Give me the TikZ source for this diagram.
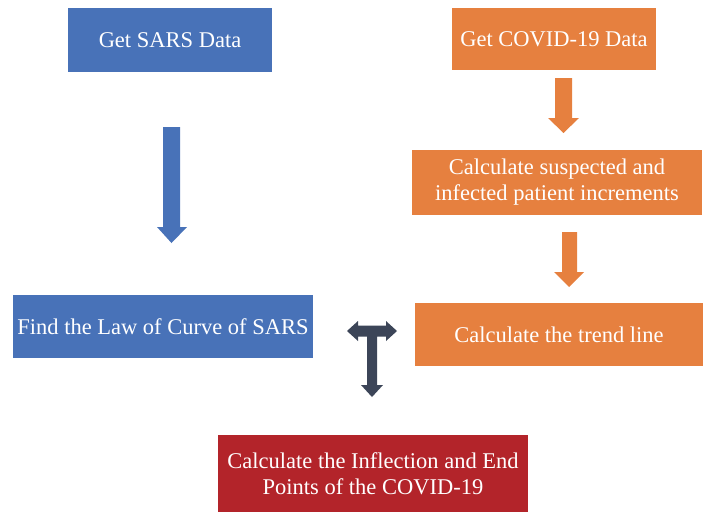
\documentclass[tikz,border=0pt]{standalone}
\usepackage{fontspec}
\setmainfont{Liberation Serif}
\definecolor{boxblue}{HTML}{4872B8}
\definecolor{boxorange}{HTML}{E6803F}
\definecolor{boxred}{HTML}{B3242A}
\definecolor{arrdark}{HTML}{3C4558}
\begin{document}
\begin{tikzpicture}[x=1pt,y=-1pt,
  box/.style={draw=none,inner sep=0pt,text=white,align=center,font=\fontsize{22.5}{26}\selectfont}]
\useasboundingbox (0,0) rectangle (704,512);
\node[box,fill=boxblue,minimum width=204pt,minimum height=64pt] (sars) at (170,40) {Get SARS Data};
\node[box,fill=boxorange,minimum width=204pt,minimum height=62pt] (covid) at (554,39) {Get COVID-19 Data};
\node[box,fill=boxorange,minimum width=290pt,minimum height=65pt] (incr) at (557,182.5) {Calculate suspected and\\infected patient increments};
\node[box,fill=boxblue,minimum width=300pt,minimum height=63pt] (law) at (163,326.5) {Find the Law of Curve of SARS};
\node[box,fill=boxorange,minimum width=288pt,minimum height=63pt] (trend) at (559,334.5) {Calculate the trend line};
\node[box,fill=boxred,minimum width=310pt,minimum height=77pt] (infl) at (373,473.5) {Calculate the Inflection and End\\Points of the COVID-19};
% block arrows
\fill[boxblue] (163,127) -- (180,127) -- (180,227) -- (187,227) -- (171.5,243) -- (157,227) -- (163,227) -- cycle;
\fill[boxorange] (555,78) -- (572,78) -- (572,118) -- (579,118) -- (563.5,133) -- (548,118) -- (555,118) -- cycle;
\fill[boxorange] (562,232) -- (577,232) -- (577,272) -- (584,272) -- (569,287) -- (554,272) -- (562,272) -- cycle;
% T arrow
\fill[arrdark] (347,331) -- (358,321) -- (358,325.5) -- (386,325.5) -- (386,321) -- (397,331) -- (386,341) -- (386,336.5)
  -- (377,336.5) -- (377,385) -- (383,385) -- (372,397) -- (361,385) -- (367,385) -- (367,336.5) -- (358,336.5) -- (358,341) -- cycle;
\end{tikzpicture}
\end{document}
